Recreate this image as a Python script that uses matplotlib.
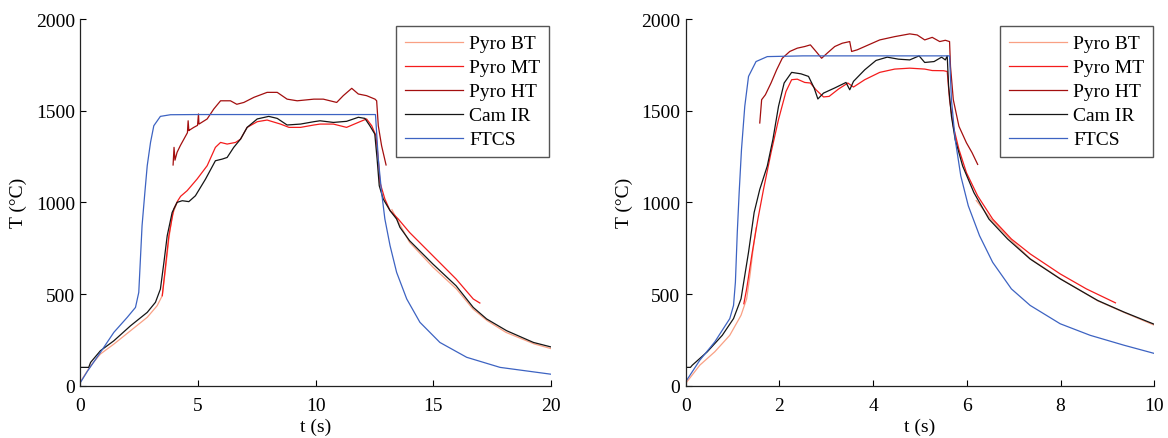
import matplotlib
matplotlib.use("Agg")
import matplotlib.pyplot as plt

plt.rcParams['font.family'] = ['Liberation Serif', 'DejaVu Serif']

# ---------------- Left panel data ----------------
L_ftcs_t = [0, 0.3, 0.85, 1.42, 1.99, 2.34, 2.48, 2.55, 2.62, 2.74, 2.84, 2.98, 3.12, 3.40, 3.83, 5.0, 8.0, 12.55,
            12.67, 12.81, 12.95, 13.17, 13.45, 13.88, 14.44, 15.29, 16.43, 17.85, 20.0]
L_ftcs_T = [18, 80, 182, 291, 373, 427, 509, 691, 873, 1055, 1200, 1327, 1418, 1469, 1478, 1479, 1479, 1479,
            1236, 1055, 909, 764, 618, 473, 346, 236, 155, 100, 63]

L_cam_t = [0, 0.35, 0.43, 0.85, 1.42, 2.13, 2.84, 3.19, 3.40, 3.55, 3.69, 3.90, 4.11, 4.33, 4.61, 4.89, 5.32, 5.74,
           6.03, 6.24, 6.52, 6.81, 7.09, 7.52, 8.01, 8.37, 8.79, 9.36, 9.93, 10.19, 10.76, 11.32, 11.82, 12.10,
           12.31, 12.52, 12.62, 12.71, 12.88, 13.17, 13.45, 13.59, 14.0, 14.99, 15.98, 16.71, 17.28, 18.13, 19.27, 20.0]
L_cam_T = [100, 100, 127, 191, 245, 327, 400, 455, 527, 673, 818, 945, 1000, 1009, 1004, 1036, 1127, 1227,
           1236, 1245, 1300, 1345, 1409, 1455, 1469, 1458, 1422, 1427, 1440, 1445, 1436, 1442, 1464, 1458,
           1418, 1373, 1236, 1091, 1018, 955, 909, 864, 791, 664, 545, 427, 364, 300, 236, 212]

L_mt_t = [3.48, 3.62, 3.76, 3.97, 4.14, 4.26, 4.54, 4.96, 5.39, 5.74, 5.96, 6.24, 6.60, 6.81, 7.09, 7.52, 7.94,
          8.51, 8.87, 9.36, 9.93, 10.19, 10.76, 11.32, 11.89, 12.17, 12.39, 12.57, 12.67, 12.74, 12.95, 13.17,
          13.52, 14.0, 14.99, 15.98, 16.71, 16.99]
L_mt_T = [491, 655, 818, 964, 1009, 1033, 1064, 1127, 1200, 1300, 1327, 1318, 1327, 1345, 1409, 1440, 1449,
          1427, 1409, 1409, 1422, 1427, 1427, 1409, 1440, 1455, 1418, 1363, 1236, 1109, 1018, 955,
          909, 836, 709, 582, 473, 451]

L_bt_heat_t = [0, 0.43, 0.85, 1.42, 2.13, 2.84, 3.26, 3.48, 3.62, 3.76, 3.90, 4.11]
L_bt_heat_T = [22, 109, 173, 227, 300, 373, 436, 491, 636, 800, 927, 1000]
L_bt_cool_t = [13.25, 13.5, 14.0, 15.0, 16.0, 16.7, 17.3, 18.1, 19.3, 20.0]
L_bt_cool_T = [960, 900, 782, 646, 527, 418, 355, 291, 228, 203]

L_ht_t = [3.94, 3.98, 4.02, 4.11, 4.25, 4.40, 4.55, 4.58, 4.61, 4.65, 4.82, 4.98, 5.02, 5.04, 5.08, 5.39, 5.67,
          5.96, 6.38, 6.65, 6.95, 7.38, 7.94, 8.37, 8.79, 9.22, 9.93, 10.33, 10.90, 11.18, 11.54, 11.82, 12.17,
          12.53, 12.60, 12.67, 12.81, 13.0]
L_ht_T = [1204, 1300, 1230, 1273, 1310, 1345, 1380, 1445, 1391, 1395, 1409, 1420, 1482, 1427, 1430, 1455, 1509,
          1554, 1554, 1535, 1545, 1573, 1600, 1600, 1563, 1554, 1563, 1563, 1545, 1582, 1622, 1591, 1582,
          1563, 1554, 1418, 1309, 1204]

# ---------------- Right panel data ----------------
R_ftcs_t = [0, 0.30, 0.62, 0.94, 1.02, 1.06, 1.10, 1.14, 1.19, 1.26, 1.34, 1.50, 1.74, 2.5, 4.0, 5.63,
            5.67, 5.75, 5.87, 6.03, 6.27, 6.55, 6.95, 7.35, 7.99, 8.63, 9.35, 10.0]
R_ftcs_T = [22, 139, 239, 366, 438, 565, 836, 1053, 1289, 1524, 1687, 1768, 1795, 1799, 1799, 1799,
            1560, 1343, 1144, 981, 818, 673, 528, 438, 338, 275, 221, 176]

R_cam_t = [0, 0.10, 0.14, 0.46, 0.78, 1.02, 1.18, 1.34, 1.46, 1.58, 1.74, 1.86, 1.98, 2.10, 2.26, 2.46, 2.62,
           2.74, 2.82, 2.94, 3.18, 3.42, 3.50, 3.58, 3.82, 4.06, 4.30, 4.54, 4.78, 4.98, 5.10, 5.30, 5.46, 5.54,
           5.58, 5.61, 5.67, 5.75, 5.91, 6.15, 6.47, 6.87, 7.35, 7.99, 8.79, 9.35, 10.0]
R_cam_T = [100, 100, 112, 185, 275, 366, 474, 728, 945, 1071, 1198, 1343, 1524, 1651, 1709, 1701, 1687,
           1624, 1564, 1596, 1624, 1654, 1614, 1660, 1723, 1774, 1792, 1781, 1777, 1799, 1763, 1768, 1792, 1777,
           1799, 1633, 1470, 1343, 1198, 1053, 909, 800, 691, 583, 465, 402, 335]

R_mt_t = [1.24, 1.30, 1.42, 1.54, 1.66, 1.82, 1.98, 2.14, 2.26, 2.38, 2.54, 2.66, 2.78, 2.94, 3.06, 3.26, 3.46,
          3.58, 3.82, 4.14, 4.46, 4.78, 5.10, 5.26, 5.50, 5.58, 5.63, 5.71, 5.83, 5.99, 6.23, 6.55, 6.95, 7.35,
          7.99, 8.55, 9.17]
R_mt_T = [447, 528, 728, 909, 1071, 1271, 1452, 1605, 1669, 1672, 1654, 1651, 1614, 1575, 1578, 1618, 1651,
          1629, 1669, 1709, 1727, 1732, 1727, 1719, 1718, 1714, 1560, 1415, 1289, 1162, 1035, 909, 800, 719,
          610, 528, 452]

R_bt_heat_t = [0, 0.30, 0.62, 0.94, 1.18, 1.30, 1.38, 1.43, 1.50]
R_bt_heat_T = [13, 112, 185, 275, 384, 474, 619, 728, 860]
R_bt_cool_t = [6.20, 6.50, 6.90, 7.35, 8.00, 8.80, 9.35, 10.0]
R_bt_cool_T = [1010, 912, 805, 693, 583, 462, 400, 330]

R_ht_t = [1.58, 1.62, 1.70, 1.82, 1.94, 2.06, 2.22, 2.38, 2.54, 2.66, 2.78, 2.90, 3.02, 3.18, 3.34, 3.50, 3.54,
          3.66, 3.90, 4.14, 4.46, 4.78, 4.94, 5.10, 5.26, 5.42, 5.54, 5.63, 5.65, 5.71, 5.83, 5.99, 6.11, 6.23]
R_ht_T = [1433, 1560, 1587, 1651, 1723, 1786, 1823, 1841, 1850, 1859, 1823, 1786, 1814, 1850, 1868, 1877, 1823,
          1832, 1859, 1886, 1904, 1919, 1913, 1886, 1900, 1877, 1884, 1877, 1741, 1560, 1415, 1325, 1271, 1207]

labels = ["Pyro BT", "Pyro MT", "Pyro HT", "Cam IR", "FTCS"]
colors = {"Pyro BT": "#F9A084", "Pyro MT": "#F41C1C", "Pyro HT": "#A30F0F",
          "Cam IR": "#151515", "FTCS": "#3D63C2"}

fig = plt.figure(figsize=(11.68, 4.39), dpi=100)
axL = fig.add_axes([0.0689, 0.1191, 0.4025, 0.8353])
axR = fig.add_axes([0.5871, 0.1191, 0.4012, 0.8353])

lw = 0.9
FS = 14


def draw(ax, bt_h, bt_c, mt, ht, cam, ftcs, xmax, xticks):
    ax.plot(bt_h[0], bt_h[1], color=colors["Pyro BT"], lw=lw, label="Pyro BT")
    ax.plot(bt_c[0], bt_c[1], color=colors["Pyro BT"], lw=lw)
    ax.plot(mt[0], mt[1], color=colors["Pyro MT"], lw=lw, label="Pyro MT")
    ax.plot(ht[0], ht[1], color=colors["Pyro HT"], lw=lw, label="Pyro HT")
    ax.plot(cam[0], cam[1], color=colors["Cam IR"], lw=lw, label="Cam IR")
    ax.plot(ftcs[0], ftcs[1], color=colors["FTCS"], lw=lw, label="FTCS")
    ax.set_xlim(0, xmax)
    ax.set_ylim(0, 2000)
    ax.set_xticks(xticks)
    ax.set_yticks([0, 500, 1000, 1500, 2000])
    for s in ["top", "right"]:
        ax.spines[s].set_visible(False)
    for s in ["left", "bottom"]:
        ax.spines[s].set_linewidth(0.9)
        ax.spines[s].set_color("#222222")
    ax.tick_params(direction="in", length=4, width=0.8, labelsize=FS)
    ax.tick_params(axis="x", pad=8)
    ax.tick_params(axis="y", pad=4)
    ax.set_xlabel("t (s)", fontsize=FS, labelpad=3)
    ax.set_ylabel("T (°C)", fontsize=FS, labelpad=6)
    leg = ax.legend(loc="upper right", bbox_to_anchor=(0.997, 0.981), borderaxespad=0,
                    fontsize=FS, handlelength=3.0, handletextpad=0.3, labelspacing=0.33,
                    borderpad=0.45, fancybox=False, framealpha=1)
    leg.get_frame().set_edgecolor("#555555")
    leg.get_frame().set_linewidth(1.0)


draw(axL, (L_bt_heat_t, L_bt_heat_T), (L_bt_cool_t, L_bt_cool_T), (L_mt_t, L_mt_T),
     (L_ht_t, L_ht_T), (L_cam_t, L_cam_T), (L_ftcs_t, L_ftcs_T), 20, [0, 5, 10, 15, 20])
draw(axR, (R_bt_heat_t, R_bt_heat_T), (R_bt_cool_t, R_bt_cool_T), (R_mt_t, R_mt_T),
     (R_ht_t, R_ht_T), (R_cam_t, R_cam_T), (R_ftcs_t, R_ftcs_T), 10, [0, 2, 4, 6, 8, 10])

fig.savefig("out.png", dpi=100)
